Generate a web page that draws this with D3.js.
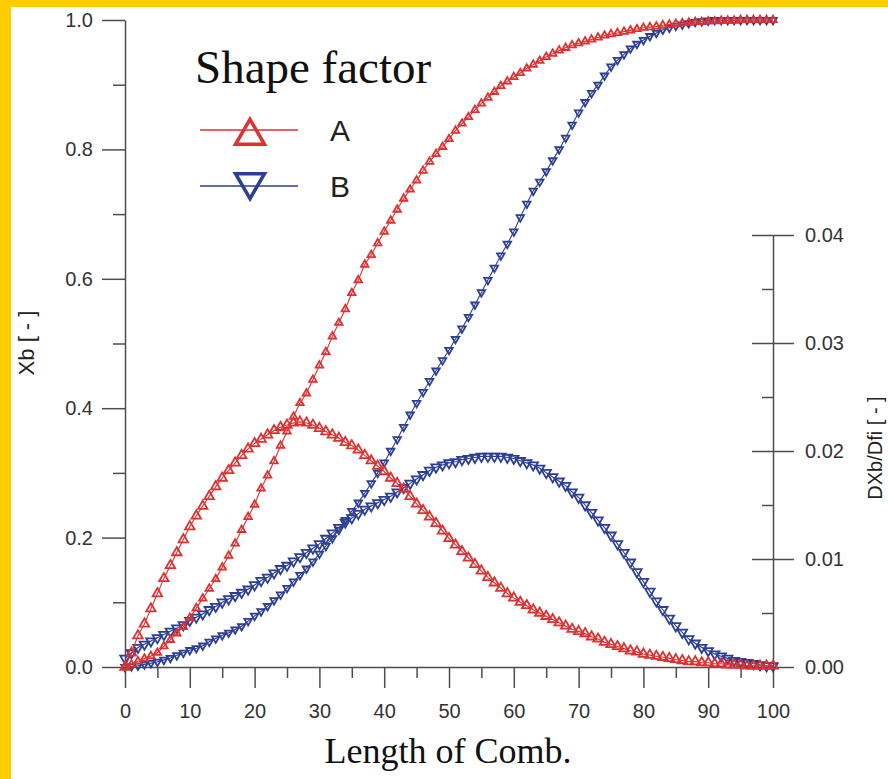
<!DOCTYPE html>
<html>
<head>
<meta charset="utf-8">
<style>
body { margin: 0; background: #fff; }
svg { display: block; }
.axis path, .axis line { stroke: #4d4d4d; stroke-width: 1.5; }
.axis text { font-family: "Liberation Sans", Arial, sans-serif; font-size: 20px; fill: #333; }
.serif { font-family: "Liberation Serif", "Times New Roman", serif; fill: #111; }
.sans { font-family: "Liberation Sans", Arial, sans-serif; fill: #222; }
</style>
</head>
<body>
<svg width="888" height="779"></svg>
<script src="https://d3js.org/d3.v7.min.js"></script>
<script>
// Length of Comb. (x positions, one marker per unit)
var lengths = d3.range(0, 101);

// Xb for shape factor A (left axis)
var xbA = [0.000,0.004,0.009,0.013,0.017,0.022,0.032,0.042,0.052,0.062,
  0.076,0.091,0.106,0.121,0.136,0.154,0.172,0.191,0.212,0.232,
  0.251,0.276,0.296,0.318,0.342,0.364,0.387,0.408,0.423,0.444,
  0.466,0.487,0.511,0.532,0.553,0.578,0.598,0.622,0.637,0.655,
  0.673,0.690,0.707,0.724,0.738,0.752,0.767,0.781,0.793,0.804,
  0.816,0.829,0.840,0.850,0.861,0.871,0.880,0.889,0.898,0.905,
  0.912,0.918,0.925,0.931,0.937,0.943,0.948,0.953,0.957,0.961,
  0.964,0.967,0.970,0.973,0.976,0.978,0.980,0.982,0.984,0.986,
  0.988,0.989,0.990,0.992,0.993,0.994,0.995,0.996,0.997,0.997,
  0.998,0.998,0.999,0.999,0.999,1.000,1.000,1.000,1.000,1.000,1.000];

// Xb for shape factor B (left axis)
var xbB = [0.000,0.001,0.002,0.004,0.006,0.008,0.011,0.014,0.018,0.022,
  0.026,0.029,0.033,0.039,0.044,0.049,0.053,0.058,0.063,0.071,
  0.079,0.086,0.094,0.103,0.112,0.122,0.132,0.142,0.152,0.163,
  0.175,0.187,0.199,0.212,0.227,0.241,0.254,0.269,0.284,0.300,
  0.316,0.334,0.352,0.371,0.390,0.408,0.425,0.442,0.458,0.474,
  0.490,0.507,0.523,0.541,0.560,0.579,0.598,0.617,0.636,0.654,
  0.673,0.695,0.716,0.736,0.750,0.766,0.783,0.800,0.818,0.838,
  0.857,0.873,0.887,0.900,0.914,0.928,0.938,0.947,0.956,0.963,
  0.969,0.975,0.980,0.985,0.988,0.991,0.993,0.995,0.997,0.998,
  0.999,1.000,1.000,1.000,1.000,1.000,1.000,1.000,1.000,1.000,1.000];

// DXb/Dfi for shape factor A (right axis)
var dA = [0.0000,0.0013,0.0029,0.0040,0.0054,0.0068,0.0082,0.0094,0.0106,0.0118,
  0.0130,0.0140,0.0149,0.0158,0.0167,0.0175,0.0182,0.0189,0.0196,0.0202,
  0.0207,0.0211,0.0215,0.0219,0.0222,0.0224,0.0226,0.0227,0.0226,0.0224,
  0.0221,0.0218,0.0215,0.0212,0.0208,0.0205,0.0201,0.0196,0.0191,0.0186,
  0.0181,0.0175,0.0170,0.0165,0.0158,0.0151,0.0145,0.0139,0.0133,0.0126,
  0.0119,0.0113,0.0107,0.0101,0.0095,0.0089,0.0083,0.0078,0.0073,0.0068,
  0.0064,0.0060,0.0057,0.0053,0.0050,0.0047,0.0044,0.0041,0.0038,0.0035,
  0.0033,0.0031,0.0028,0.0026,0.0023,0.0021,0.0019,0.0017,0.0015,0.0014,
  0.0012,0.0011,0.0010,0.0009,0.0008,0.0007,0.0006,0.0005,0.0005,0.0004,
  0.0004,0.0003,0.0003,0.0002,0.0002,0.0002,0.0001,0.0001,0.0001,0.0001,0.0001];

// DXb/Dfi for shape factor B (right axis)
var dB = [0.0008,0.0013,0.0018,0.0021,0.0024,0.0027,0.0030,0.0033,0.0036,0.0039,
  0.0043,0.0046,0.0049,0.0053,0.0056,0.0060,0.0063,0.0066,0.0069,0.0072,
  0.0076,0.0080,0.0083,0.0087,0.0091,0.0094,0.0098,0.0102,0.0106,0.0110,
  0.0114,0.0119,0.0124,0.0129,0.0134,0.0138,0.0142,0.0146,0.0149,0.0152,
  0.0155,0.0158,0.0162,0.0166,0.0170,0.0174,0.0178,0.0182,0.0185,0.0187,
  0.0189,0.0190,0.0192,0.0193,0.0194,0.0195,0.0195,0.0195,0.0195,0.0194,
  0.0193,0.0191,0.0189,0.0187,0.0184,0.0180,0.0176,0.0172,0.0168,0.0162,
  0.0157,0.0150,0.0143,0.0136,0.0129,0.0122,0.0114,0.0106,0.0097,0.0088,
  0.0079,0.0070,0.0061,0.0053,0.0045,0.0038,0.0032,0.0026,0.0022,0.0018,
  0.0015,0.0012,0.0010,0.0008,0.0006,0.0005,0.0004,0.0003,0.0002,0.0001,0.0001];

var xTicks = [0,10,20,30,40,50,60,70,80,90,100];
var yTicks = [0,0.2,0.4,0.6,0.8,1.0];
var y2Ticks = [0,0.01,0.02,0.03,0.04];

var red = "#df3131", blue = "#2d3f94";

var svg = d3.select("svg");

// yellow frame
svg.append("rect").attr("x",0).attr("y",0).attr("width",888).attr("height",779).attr("fill","#fff");
svg.append("rect").attr("x",0).attr("y",0).attr("width",888).attr("height",7).attr("fill","#ffcc00");
svg.append("rect").attr("x",0).attr("y",0).attr("width",11).attr("height",779).attr("fill","#ffcc00");

var x = d3.scaleLinear().domain([0,100]).range([125,773]);
var y = d3.scaleLinear().domain([0,1]).range([667,20]);
var y2 = d3.scaleLinear().domain([0,0.04]).range([667,235]);

// left axis
svg.append("g").attr("class","axis").attr("transform","translate(125,0)")
  .call(d3.axisLeft(y).tickValues(yTicks).tickFormat(d3.format(".1f")).tickSize(23).tickPadding(9).tickSizeOuter(0));
svg.append("g").attr("class","axis").attr("transform","translate(125,0)")
  .call(d3.axisLeft(y).tickValues([0.1,0.3,0.5,0.7,0.9]).tickFormat("").tickSize(12))
  .select(".domain").remove();

// bottom axis
svg.append("g").attr("class","axis").attr("transform","translate(0,667)")
  .call(d3.axisBottom(x).tickValues(xTicks).tickSize(21).tickPadding(16).tickSizeOuter(0));
svg.append("g").attr("class","axis").attr("transform","translate(0,667)")
  .call(d3.axisBottom(x).tickValues([5,15,25,35,45,55,65,75,85,95]).tickFormat("").tickSize(11))
  .select(".domain").remove();

// right axis, major ticks cross the line
var ra = svg.append("g").attr("class","axis").attr("transform","translate(773,0)")
  .call(d3.axisRight(y2).tickValues(y2Ticks).tickFormat(d3.format(".2f")).tickSize(21).tickPadding(11).tickSizeOuter(0));
ra.selectAll(".tick line").attr("x1",-21);
svg.append("g").attr("class","axis").attr("transform","translate(773,0)")
  .call(d3.axisLeft(y2).tickValues([0.005,0.015,0.025,0.035]).tickFormat("").tickSize(11))
  .select(".domain").remove();

// axis titles
svg.append("text").attr("class","sans").attr("transform","translate(34,343) rotate(-90)")
  .attr("text-anchor","middle").style("font-size","22px").text("Xb [ - ]");
svg.append("text").attr("class","sans").attr("transform","translate(882,448) rotate(-90)")
  .attr("text-anchor","middle").style("font-size","20px").text("DXb/Dfi [ - ]");
svg.append("text").attr("class","serif").attr("x",448).attr("y",763)
  .attr("text-anchor","middle").style("font-size","36px").text("Length of Comb.");

// series
function triArea(w) { return Math.sqrt(3) / 4 * w * w; }

function drawSeries(vals, scale, color, down, w) {
  var pts = lengths.map(function(d, i) { return [d, vals[i]]; });
  var line = d3.line().x(function(d) { return x(d[0]); }).y(function(d) { return scale(d[1]); });
  svg.append("path").datum(pts).attr("d", line)
    .attr("fill","none").attr("stroke",color).attr("stroke-width",1.1);
  svg.append("g").selectAll("path").data(pts).enter().append("path")
    .attr("d", d3.symbol(d3.symbolTriangle, triArea(w)))
    .attr("transform", function(d) { return "translate(" + x(d[0]) + "," + scale(d[1]) + ")" + (down ? " rotate(180)" : ""); })
    .attr("fill","none").attr("stroke",color).attr("stroke-width",1.8);
}

drawSeries(xbB, y, blue, true, 7.5);
drawSeries(dB, y2, blue, true, 9.5);
drawSeries(xbA, y, red, false, 7.5);
drawSeries(dA, y2, red, false, 9.5);

// legend
svg.append("text").attr("class","serif").attr("x",195).attr("y",83).style("font-size","47px").text("Shape factor");
var legend = [
  {name:"A", color:red, down:false, ly:130, ty:136},
  {name:"B", color:blue, down:true, ly:186, ty:182}
];
legend.forEach(function(l) {
  svg.append("line").attr("x1",200).attr("x2",298).attr("y1",l.ly).attr("y2",l.ly)
    .attr("stroke",l.color).attr("stroke-width",1.5);
  svg.append("path").attr("d", d3.symbol(d3.symbolTriangle, triArea(29)))
    .attr("transform","translate(250," + l.ty + ")" + (l.down ? " rotate(180)" : ""))
    .attr("fill","none").attr("stroke",l.color).attr("stroke-width",3.5);
  svg.append("text").attr("class","sans").attr("x",330).attr("y",l.ly + 11)
    .style("font-size","30px").text(l.name);
});
</script>
</body>
</html>
